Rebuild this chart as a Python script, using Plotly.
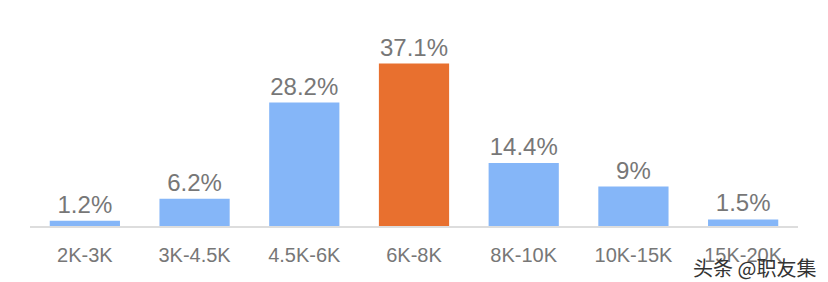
import plotly.graph_objects as go

categories = ["2K-3K", "3K-4.5K", "4.5K-6K", "6K-8K", "8K-10K", "10K-15K", "15K-20K"]
values = [1.2, 6.2, 28.2, 37.1, 14.4, 9.0, 1.5]
labels = ["1.2%", "6.2%", "28.2%", "37.1%", "14.4%", "9%", "1.5%"]
highlight = "6K-8K"

colors = ["#E8702F" if c == highlight else "#85B6F8" for c in categories]

fig = go.Figure(go.Bar(
    x=categories, y=values, text=labels, textposition="outside",
    marker=dict(color=colors, line=dict(width=0)),
    textfont=dict(size=24, color="#777777", family="Liberation Sans"),
    cliponaxis=False, width=0.64,
))

fig.update_layout(
    width=828, height=282,
    margin=dict(l=30, r=30, t=50, b=56),
    paper_bgcolor="white", plot_bgcolor="white",
    showlegend=False,
    font=dict(family="Liberation Sans", color="#777777"),
    xaxis=dict(showline=True, linecolor="#DDDDDD", linewidth=2, ticks="",
               tickfont=dict(size=20, color="#777777"), ticklabelstandoff=10,
               showgrid=False),
    yaxis=dict(range=[0, 40.2], visible=False, showgrid=False),
    annotations=[dict(text="头条 @职友集", xref="paper", yref="paper", x=1.026, y=-0.235,
                      xanchor="right", yanchor="middle", showarrow=False,
                      font=dict(size=20, color="#333333", family="Noto Sans CJK SC"))],
)

fig.write_html("out.html")
